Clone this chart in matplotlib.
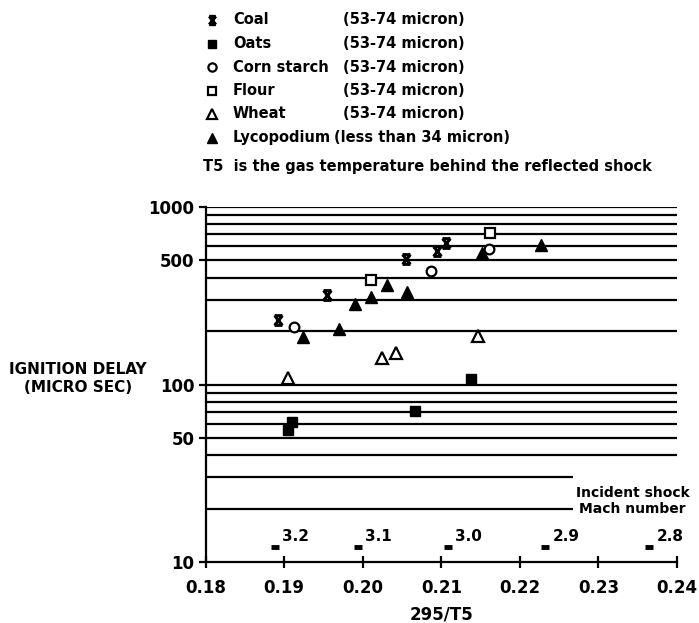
import matplotlib

matplotlib.use("Agg")
import matplotlib.pyplot as plt
from matplotlib.lines import Line2D
from matplotlib.path import Path
import numpy as np

# hourglass "x" used for coal in the original
HOURGLASS = Path(
    [(-0.8, 1), (0.8, 1), (-0.8, -1), (0.8, -1), (-0.8, 1), (0.8, -1), (0.8, 1), (-0.8, -1)],
    [Path.MOVETO, Path.LINETO, Path.MOVETO, Path.LINETO,
     Path.MOVETO, Path.LINETO, Path.MOVETO, Path.LINETO],
)

coal_x = [0.1892, 0.1954, 0.2055, 0.2095, 0.2106]
coal_y = [231, 319, 509, 565, 627]
oats_x = [0.1910, 0.1905, 0.2067, 0.2138]
oats_y = [61.5, 55.4, 71, 107]
corn_x = [0.1913, 0.2087, 0.2161]
corn_y = [211, 436, 580]
flour_x = [0.2010, 0.2162]
flour_y = [388, 714]
wheat_x = [0.1905, 0.2025, 0.2043, 0.2147]
wheat_y = [109, 141, 150, 188]
lyco_x = [0.1924, 0.1970, 0.1990, 0.2010, 0.2031, 0.2057, 0.2152, 0.2227]
lyco_y = [185, 205, 284, 311, 364, 332, 551, 611]

series_names = ["Coal", "Oats", "Corn starch", "Flour", "Wheat", "Lycopodium"]
series_sizes = ["(53-74 micron)"] * 5 + ["(less than 34 micron)"]

grid_full = [40, 50, 60, 70, 80, 90, 100, 200, 300, 400, 500, 600, 700, 800, 900, 1000]
grid_short = [20, 30]

mach_x = [0.18885, 0.19943, 0.21089, 0.22325, 0.23650]
mach_labels = ["3.2", "3.1", "3.0", "2.9", "2.8"]
mach_level = 12.2

xticks = [0.18, 0.19, 0.20, 0.21, 0.22, 0.23, 0.24]
yticks = [10, 50, 100, 500, 1000]

plt.rcParams.update({"font.family": "DejaVu Sans", "font.weight": "bold",
                     "axes.labelweight": "bold"})

fig = plt.figure(figsize=(6.99, 6.23), dpi=100)
ax = fig.add_axes([205.5 / 699, 1 - 562 / 623, (677 - 205.5) / 699, (562 - 207) / 623])
ax.set_xlim(0.18, 0.24)
ax.set_ylim(10, 1000)
ax.set_yscale("log")

ax.hlines(grid_full, 0.18, 0.24, color="black", lw=1.6, zorder=1)
ax.hlines(grid_short, 0.18, 0.2268, color="black", lw=1.6, zorder=1)

styles = [
    (coal_x, coal_y, dict(marker=HOURGLASS, ms=7, mfc="black", mec="black", mew=2.2)),
    (oats_x, oats_y, dict(marker="s", ms=7.5, mfc="black", mec="black", mew=1)),
    (corn_x, corn_y, dict(marker="o", ms=7, mfc="white", mec="black", mew=1.6)),
    (flour_x, flour_y, dict(marker="s", ms=7.5, mfc="white", mec="black", mew=1.6)),
    (wheat_x, wheat_y, dict(marker="^", ms=8, mfc="white", mec="black", mew=1.6)),
    (lyco_x, lyco_y, dict(marker="^", ms=8.5, mfc="black", mec="black", mew=1)),
]
for xs, ys, st in styles:
    ax.plot(xs, ys, ls="none", zorder=3, **st)

# incident shock Mach number scale
ax.plot(mach_x, [mach_level] * len(mach_x), ls="none", marker="_", ms=6, mew=3.5, color="black")
for mx, lab in zip(mach_x, mach_labels):
    ax.text(mx + 0.0009, mach_level * 1.03, lab, fontsize=11, ha="left", va="bottom")
ax.text(0.2272, 24.5, "Incident shock", fontsize=10, ha="left", va="center")
ax.text(0.2275, 20, "Mach number", fontsize=10, ha="left", va="center")

for s in ["top", "right"]:
    ax.spines[s].set_visible(False)
ax.spines["left"].set_linewidth(1.6)
ax.spines["bottom"].set_linewidth(1.6)

ax.set_xticks(xticks)
ax.set_xticklabels([f"{t:.2f}" for t in xticks], fontsize=12)
ax.tick_params(axis="x", direction="inout", length=9, width=1.6, pad=8)
ax.set_yticks(yticks)
ax.set_yticklabels([str(t) for t in yticks], fontsize=12)
ax.yaxis.set_minor_locator(plt.NullLocator())
ax.tick_params(axis="y", direction="out", length=5, width=1.6, pad=3)
ax.set_xlabel("295/T5", fontsize=12, fontweight="bold", labelpad=6)

fig.text(78 / 699, 1 - 370 / 623, "IGNITION DELAY", fontsize=11, ha="center", va="center")
fig.text(78 / 699, 1 - 387 / 623, "(MICRO SEC)", fontsize=11, ha="center", va="center")

# legend drawn by hand to keep the two text columns aligned
row_y = [20, 43.5, 67, 90.5, 114, 137.5]
for (xs, ys, st), name, size, py in zip(styles, series_names, series_sizes, row_y):
    fy = 1 - py / 623
    st = dict(st)
    st["ms"] = st["ms"] * 0.85
    fig.add_artist(Line2D([212 / 699], [fy], transform=fig.transFigure, ls="none", **st))
    fig.text(233 / 699, fy, name, fontsize=10.5, ha="left", va="center")
    fig.text(343 / 699 if size.startswith("(53") else 334 / 699, fy, size,
             fontsize=10.5, ha="left", va="center")
fig.text(203 / 699, 1 - 167 / 623, "T5  is the gas temperature behind the reflected shock",
         fontsize=10.5, ha="left", va="center")

fig.savefig("out.png", dpi=100, facecolor="white")
